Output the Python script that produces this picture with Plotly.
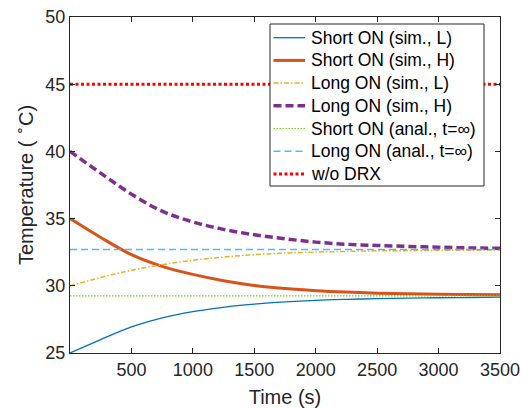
import plotly.graph_objects as go

time_s = [0, 250, 500, 750, 1000, 1250, 1500, 1750, 2000, 2250, 2500, 2750, 3000, 3250, 3500]
short_sim_L = [25.0, 26.0, 26.94, 27.62, 28.08, 28.40, 28.63, 28.80, 28.92, 28.99, 29.04, 29.08, 29.11, 29.13, 29.15]
short_sim_H = [35.0, 33.60, 32.32, 31.45, 30.85, 30.38, 30.03, 29.80, 29.64, 29.53, 29.45, 29.40, 29.37, 29.35, 29.33]
long_sim_L = [30.0, 30.62, 31.15, 31.57, 31.90, 32.14, 32.32, 32.44, 32.51, 32.56, 32.60, 32.62, 32.64, 32.65, 32.66]
long_sim_H = [40.0, 38.38, 36.82, 35.55, 34.75, 34.20, 33.80, 33.50, 33.25, 33.09, 33.00, 32.93, 32.87, 32.82, 32.79]
short_anal_inf = 29.25
long_anal_inf = 32.7
wo_drx = 45.0

series_names = ["Short ON (sim., L)", "Short ON (sim., H)", "Long ON (sim., L)", "Long ON (sim., H)",
                "Short ON (anal., t=∞)", "Long ON (anal., t=∞)", "w/o DRX"]

x_ticks = [500, 1000, 1500, 2000, 2500, 3000, 3500]
y_ticks = [25, 30, 35, 40, 45, 50]

font_family = "Liberation Sans, Arial, sans-serif"
txt = "#262626"

styles = [
    dict(color="#0072BD", width=1.3),
    dict(color="#D95319", width=3),
    dict(color="#EDB120", width=1.5, dash="5px,2px,1.5px,2px"),
    dict(color="#7E2F8E", width=3.5, dash="8px,4px"),
    dict(color="#6CD81C", width=1.2, dash="1.5px,1.5px"),
    dict(color="#4DBEEE", width=1.5, dash="7px,4px"),
    dict(color="#FF0000", width=3, dash="3px,2.5px"),
]

ys = [short_sim_L, short_sim_H, long_sim_L, long_sim_H,
      [short_anal_inf] * len(time_s), [long_anal_inf] * len(time_s), [wo_drx] * len(time_s)]

fig = go.Figure()
for i, (name, y) in enumerate(zip(series_names, ys)):
    ln = dict(styles[i])
    if i < 4:
        ln["shape"] = "spline"
    fig.add_trace(go.Scatter(x=time_s, y=y, mode="lines", name=name, line=ln, showlegend=False))

# plot area geometry in pixels
W, H = 522, 408
ML, MR, MT, MB = 70, 22, 17, 55
PW, PH = W - ML - MR, H - MT - MB


def px(X):
    return (X - ML) / PW


def py(Y):
    return (H - MB - Y) / PH


# manual legend box (MATLAB style)
shapes = [dict(type="rect", xref="paper", yref="paper", x0=px(270), x1=px(484), y0=py(186), y1=py(24),
               fillcolor="white", line=dict(color="#262626", width=1), layer="above")]
annotations = []
for i, name in enumerate(series_names):
    yc = 37.7 + 22.7 * i
    st = dict(styles[i])
    shapes.append(dict(type="line", xref="paper", yref="paper", x0=px(273.5), x1=px(305),
                       y0=py(yc), y1=py(yc), line=st, layer="above"))
    annotations.append(dict(x=px(308.5), y=py(yc), xref="paper", yref="paper", text=name,
                            showarrow=False, xanchor="left", yanchor="middle",
                            font=dict(family=font_family, size=17.5, color="black")))

axis_common = dict(showline=True, linecolor="#262626", linewidth=1, mirror="ticks",
                   ticks="inside", ticklen=5, tickcolor="#262626", showgrid=False, zeroline=False,
                   automargin=False,
                   tickfont=dict(family=font_family, size=18, color=txt))

fig.update_layout(
    width=W, height=H, autosize=False,
    margin=dict(l=ML, r=MR, t=MT, b=MB, autoexpand=False),
    paper_bgcolor="white", plot_bgcolor="white",
    font=dict(family=font_family, color=txt),
    showlegend=False,
    shapes=shapes,
    annotations=annotations,
    xaxis=dict(range=[0, 3500], tickvals=x_ticks, **axis_common,
               title=dict(text="Time (s)", font=dict(family=font_family, size=20, color=txt), standoff=13)),
    yaxis=dict(range=[25, 50], tickvals=y_ticks, **axis_common,
               title=dict(text="Temperature ( <sup>∘</sup>C)", font=dict(family=font_family, size=20, color=txt), standoff=6)),
)

fig.write_html(
    "out.html",
    config={"displayModeBar": False, "responsive": False},
    post_script=("document.documentElement.style.overflow='hidden';"
                 "document.body.style.overflow='hidden';"
                 "document.body.style.margin='0';document.body.style.padding='0';"),
)
